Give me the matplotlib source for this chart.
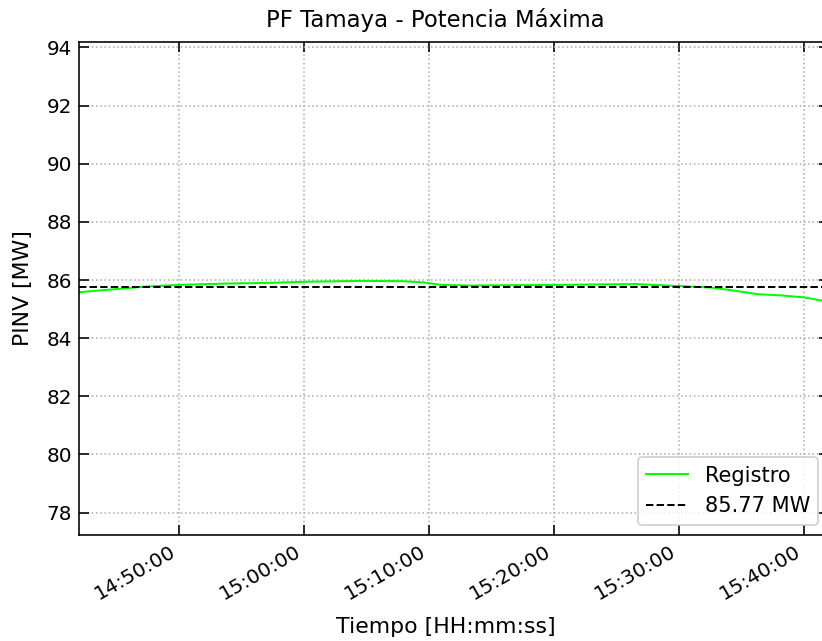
import pandas as pd
import matplotlib
matplotlib.use('Agg')
import matplotlib.pyplot as plt
import matplotlib.dates as mdates

# registro de potencia del inversor (MW)
horas = ['14:42:00', '14:44:28', '14:47:11', '14:49:50', '14:53:51', '14:57:04',
         '15:00:02', '15:04:37', '15:07:50', '15:09:26', '15:11:03', '15:13:18',
         '15:15:42', '15:19:58', '15:23:44', '15:26:38', '15:30:10', '15:32:34',
         '15:34:11', '15:36:21', '15:38:12', '15:40:03', '15:42:00']
pinv = [85.58, 85.67, 85.77, 85.83, 85.88, 85.90,
        85.94, 85.97, 85.96, 85.92, 85.83, 85.81,
        85.82, 85.83, 85.85, 85.86, 85.79, 85.74,
        85.65, 85.51, 85.47, 85.40, 85.25]
p_max = 85.77

t = pd.to_datetime(['2020-01-01 ' + h for h in horas])

fig = plt.figure(figsize=(822 / 144, 641 / 144), dpi=144)
ax = fig.add_axes([0.0965, 0.165, 0.912, 0.770])

ax.plot(t, pinv, color='#00ff00', lw=1, label='Registro')
ax.axhline(p_max, color='black', ls='--', lw=1, label=f'{p_max:.2f} MW')

ax.set_xlim(t[0], t[-1])
ax.set_ylim(77.22, 94.2)
ax.set_yticks(range(78, 95, 2))
ax.xaxis.set_major_locator(mdates.MinuteLocator(byminute=[0, 10, 20, 30, 40, 50]))
ax.xaxis.set_major_formatter(mdates.DateFormatter('%H:%M:%S'))
for lab in ax.get_xticklabels():
    lab.set_rotation(30)
    lab.set_ha('right')

ax.tick_params(direction='in', top=True, right=True, length=5, labelsize=10)
ax.grid(True, ls=':', color='#b0b0b0', lw=0.8)

ax.set_title('PF Tamaya - Potencia Máxima', fontsize=11.4, x=0.475, pad=7.5)
ax.set_xlabel('Tiempo [HH:mm:ss]', fontsize=11)
ax.xaxis.set_label_coords(0.489, -0.165)
ax.set_ylabel('PINV [MW]', fontsize=11)
ax.yaxis.set_label_coords(-0.062, 0.5)
ax.legend(loc='lower right', fontsize=10.5)

fig.savefig('out.png', dpi=144)
